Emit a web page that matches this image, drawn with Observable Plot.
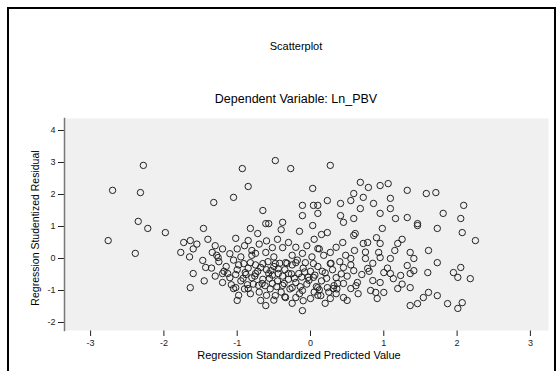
<!DOCTYPE html>
<html>
<head>
<meta charset="utf-8">
<script src="https://cdn.jsdelivr.net/npm/d3@7"></script>
<script src="https://cdn.jsdelivr.net/npm/@observablehq/plot@0.6"></script>
<style>
  html, body { margin: 0; padding: 0; background: #fff; }
  #wrap { position: relative; width: 558px; height: 371px; overflow: hidden; font-family: "Liberation Sans", Arial, sans-serif; }
  #frame { position: absolute; left: 7px; top: 7px; width: 549px; height: 420px; border: 2px solid #000; box-sizing: border-box; pointer-events: none; }
  #head { position: relative; width: 558px; height: 110px; }
  #title { position: absolute; top: 40px; left: 0; width: 592px; text-align: center; font-size: 11px; color: #000; }
  #subtitle { position: absolute; top: 92px; left: 0; width: 592px; text-align: center; font-size: 12.5px; color: #000; }
  #ylab { position: absolute; left: 35px; top: 228px; transform: translate(-50%, -50%) rotate(-90deg); white-space: nowrap; font-size: 10.5px; color: #000; }
  #xlab { position: absolute; left: 0; top: 349px; width: 598px; text-align: center; font-size: 11px; color: #000; }
  svg { display: block; }
</style>
</head>
<body>
<div id="wrap">
  <div id="head">
    <div id="title">Scatterplot</div>
    <div id="subtitle">Dependent Variable: Ln_PBV</div>
  </div>
  <div id="chart"></div>
  <div id="ylab">Regression Studentized Residual</div>
  <div id="xlab">Regression Standardized Predicted Value</div>
  <div id="frame"></div>
</div>
<script>
// Regression Standardized Predicted Value (x) and Studentized Residual (y)
const predicted = [
  -2.76,-2.70,-2.32,-2.28,-2.35,-2.22,-1.98,-2.39,-1.73,-1.77,-1.64,-1.46,-1.32,-1.05,-0.85,-0.93,-0.48,-0.27,-0.65,-0.38,
  -0.57,-0.11,0.04,-0.11,0.03,-1.60,-1.64,-1.05,-1.00,-0.68,-0.11,
  0.27,0.68,0.79,0.95,1.06,1.32,1.58,0.59,0.72,1.09,0.10,0.23,0.41,0.55,0.68,0.86,1.09,0.10,0.41,
  0.59,0.95,1.16,1.32,1.46,1.81,2.05,2.09,1.71,2.07,2.25,1.73,0.98,0.45,0.23,0.03,0.61,0.78,0.95,1.19,
  1.61,1.36,0.93,0.75,0.55,1.09,1.41,1.73,1.32,0.78,1.00,1.41,1.60,1.95,2.05,2.18,2.01,1.13,0.85,0.64,
  0.45,0.31,0.55,0.89,1.19,1.36,1.61,1.46,1.36,1.87,2.07,2.01,0.45,0.27,0.14,
  0.44,0.59,0.72,0.27,0.10,0.04,0.27,0.45,0.59,1.09,1.23,0.37,0.23,0.10,0.04,0.82,1.00,0.50,0.91,1.54,
  1.73,1.36,0.95,1.46,
  -1.34,-1.26,-1.47,-1.43,-1.20,-1.13,-1.02,-0.85,-0.72,-0.82,-0.61,-0.52,-0.38,-0.61,-0.75,-0.91,-0.82,-0.65,-0.48,-0.34,
  -0.20,-0.07,-0.11,-0.89,-0.75,-0.57,-0.44,-0.30,-0.16,-0.03,-1.02,-0.85,-0.71,-0.52,-0.38,-0.25,-0.11,-0.48,-0.61,-0.34,
  -0.20,
  -1.55,-1.40,-1.30,-1.20,-1.10,-1.25,-1.15,-1.05,-0.95,-1.00,-0.90,-0.80,-0.70,-0.60,-0.45,-0.30,-0.20,-0.05,0.05,0.15,
  -0.15,-0.40,
  -1.30,-1.20,-1.10,-1.00,-0.95,-0.90,-0.85,-0.80,-0.75,-0.70,-0.65,-0.60,-0.55,-0.50,-0.45,-0.40,-0.35,-0.30,-0.25,-0.20,
  -0.15,-0.10,-0.05,0.00,0.05,0.10,0.15,0.20,0.25,0.30,0.35,0.40,0.50,0.55,0.65,0.70,0.75,0.85,0.95,1.05,
  1.15,1.25,-0.88,-0.62,-0.38,-0.12,0.08,-0.72,-0.52,-0.28,-1.02,-0.78,-0.58,-0.42,-0.18,0.02,0.18,0.32,0.48,0.62,
  0.80,-1.35,-0.98,-0.82,-0.50,-0.25,0.00,0.20,-1.45,-1.65,-1.60,
  -0.98,-0.92,-0.86,-0.76,-0.68,-0.66,-0.56,-0.54,-0.46,-0.44,-0.36,-0.32,-0.26,-0.22,-0.14,-0.08,-0.02,0.06,0.12,0.16,
  0.22,0.28,0.36,0.42,-1.08,-1.18,-1.28,-0.60,-0.35,-0.10,0.10,0.35,-0.80,-0.50,-0.25,0.12,0.35,0.60,0.90,1.25
];
const residual = [
  0.56,2.13,2.06,2.91,1.16,0.94,0.81,0.16,0.50,0.19,0.56,0.94,1.75,1.91,2.25,2.81,3.06,2.81,1.50,1.13,
  1.09,1.66,1.66,1.34,2.19,-0.47,-0.91,-0.94,-1.31,-1.31,-1.63,
  2.91,2.38,2.22,2.28,2.34,2.13,2.03,2.03,1.91,1.88,1.66,1.81,1.72,1.81,1.56,1.72,1.56,1.41,1.34,
  1.25,1.41,1.25,1.28,1.09,1.41,1.25,1.66,2.06,0.81,0.56,0.94,0.94,1.13,0.81,1.03,0.78,0.50,0.47,0.47,
  0.25,0.19,0.19,0.00,0.00,0.00,0.00,-0.13,-0.22,-0.31,-0.44,-0.38,-0.44,-0.44,-0.28,-0.63,-0.59,-0.63,-0.69,-0.75,
  -0.78,-0.94,-0.94,-1.06,-0.94,-0.91,-1.06,-1.41,-1.47,-1.41,-1.38,-1.56,-1.22,-1.25,-1.16,
  0.50,0.72,0.47,0.19,0.31,-0.16,-0.16,-0.28,-0.38,-0.47,-0.53,-0.78,-0.91,-0.91,-0.59,-1.00,-1.06,-1.31,-1.25,-1.22,
  -1.16,-0.47,0.03,1.03,
  0.19,0.03,-0.06,-0.28,-0.47,-0.47,0.63,0.56,0.78,0.94,1.09,0.34,0.34,0.19,0.16,-0.16,-0.13,-0.16,-0.16,-0.13,
  -0.13,-0.13,0.16,-0.44,-0.47,-0.47,-0.47,-0.47,-0.47,-0.59,-0.91,-0.94,-0.84,-0.78,-0.84,-0.91,-1.00,-1.16,-1.47,-1.22,
  -1.22,
  0.45,0.60,0.40,0.30,0.15,-0.10,-0.25,-0.05,0.05,0.30,0.40,0.25,0.45,0.55,0.60,0.50,0.35,0.40,0.60,0.75,
  0.85,0.90,
  -0.55,-0.75,-0.60,-0.35,-0.70,-0.95,-0.30,-0.60,-0.20,-1.05,-0.65,-0.35,-0.95,-0.25,-0.70,-1.05,-0.35,-0.65,-0.20,-0.75,
  -1.10,-0.30,-0.80,-0.40,-1.05,-0.25,-0.70,-0.45,-1.05,-0.35,-0.60,-0.10,-0.55,-0.20,-1.10,-0.50,0.20,-0.15,-0.75,-0.30,
  0.25,-0.80,-0.50,-0.85,-0.55,-0.58,-0.88,-0.40,-0.52,-0.95,-0.50,-0.80,-0.10,-0.15,-0.05,0.05,0.10,-0.85,0.10,-0.85,
  -0.40,-0.30,-1.15,-1.10,-1.30,-1.40,-1.25,-1.40,-0.70,0.05,0.30,
  -0.20,-0.62,-0.82,-0.55,-0.28,-0.78,-0.62,-0.38,-0.88,-0.32,-0.78,-0.15,-0.48,-0.62,-0.88,-0.42,-0.68,-0.52,-0.98,-0.40,
  -0.62,-0.15,-0.95,-0.48,-0.82,-0.40,0.10,-1.15,-1.20,-1.32,-1.15,-1.10,0.10,0.05,0.10,0.30,0.35,0.25,0.65,0.60
];
const xTicks = [-3, -2, -1, 0, 1, 2, 3];
const yTicks = [-2, -1, 0, 1, 2, 3, 4];

const points = predicted.map((x, i) => ({x, y: residual[i]}));

const chart = Plot.plot({
  width: 558,
  height: 261,
  marginLeft: 64,
  marginRight: 10,
  marginTop: 8,
  marginBottom: 41,
  style: {fontFamily: "Liberation Sans, Arial, sans-serif", fontSize: "9px", color: "#222", background: "transparent"},
  x: {domain: [-3.356, 3.247], ticks: xTicks, tickFormat: d => String(d), label: null, tickSize: 6, tickPadding: 3},
  y: {domain: [-2.25, 4.375], ticks: yTicks, tickFormat: d => String(d), label: null, tickSize: 6, tickPadding: 3},
  marks: [
    Plot.frame({fill: "#f0f0f0", stroke: null}),
    Plot.frame({anchor: "left", stroke: "#777", strokeWidth: 1.5}),
    Plot.dot(points, {x: "x", y: "y", r: 3.2, stroke: "#222", strokeWidth: 1, fill: "none"})
  ]
});
document.getElementById("chart").appendChild(chart);
</script>
</body>
</html>
